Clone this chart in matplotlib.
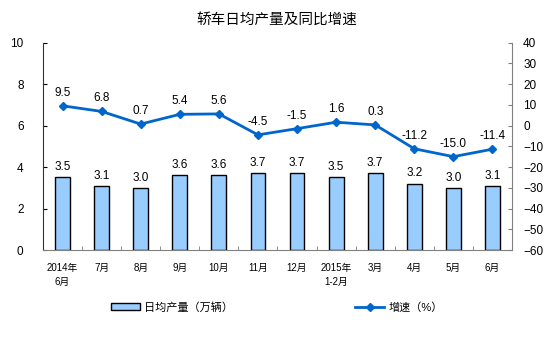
import matplotlib
matplotlib.use('Agg')
import matplotlib.pyplot as plt
import numpy as np

plt.rcParams['font.family'] = ['Liberation Sans', 'Noto Sans CJK SC', 'DejaVu Sans']

months = ['2014年\n6月', '7月', '8月', '9月', '10月', '11月', '12月',
          '2015年\n1-2月', '3月', '4月', '5月', '6月']
output = [3.5, 3.1, 3.0, 3.6, 3.6, 3.7, 3.7, 3.5, 3.7, 3.2, 3.0, 3.1]
growth = [9.5, 6.8, 0.7, 5.4, 5.6, -4.5, -1.5, 1.6, 0.3, -11.2, -15.0, -11.4]

bar_color = '#99CCFF'
line_color = '#0066CC'

fig = plt.figure(figsize=(5.54, 3.43), dpi=100)
ax = fig.add_axes([0.0776, 0.2711, 0.8466, 0.6049])
x = np.arange(len(months))

bars = ax.bar(x, output, width=0.38, color=bar_color, edgecolor='black',
              linewidth=1.0, label='日均产量（万辆）', zorder=2)
for xi, v in zip(x, output):
  ax.annotate('%.1f' % v, (xi, v), xytext=(0, 3), textcoords='offset points',
              ha='center', va='bottom', fontsize=8.5)

ax.set_xlim(-0.5, len(months) - 0.5)
ax.set_ylim(0, 10)
ax.set_yticks(range(0, 11, 2))
ax.set_xticks(x)
ax.set_xticklabels(months, fontsize=7, linespacing=1.5)
ax.set_xticks(np.arange(-0.5, len(months), 1), minor=True)
ax.tick_params(axis='x', which='major', length=0, pad=9)
ax.tick_params(axis='x', which='minor', length=3, direction='in', color='#808080')
ax.tick_params(axis='y', direction='in', length=3, labelsize=8.5, pad=14)

ax.spines['top'].set_visible(False)
ax.spines['right'].set_visible(False)
ax.spines['left'].set_color('#333333')
ax.spines['bottom'].set_color('#808080')

ax2 = ax.twinx()
ax2.plot(x, growth, color=line_color, marker='D', markersize=4.5, linewidth=2,
         label='增速（%）', zorder=3)
for xi, v in zip(x, growth):
  ax2.annotate('%.1f' % v, (xi, v), xytext=(0, 5), textcoords='offset points',
               ha='center', va='bottom', fontsize=8.5)
ax2.set_ylim(-60, 40)
ax2.set_yticks(range(-60, 41, 10))
ax2.tick_params(axis='y', direction='in', length=3, labelsize=8.5, color='#808080', pad=8)
ax2.spines['top'].set_visible(False)
ax2.spines['left'].set_visible(False)
ax2.spines['bottom'].set_visible(False)
ax2.spines['right'].set_color('#808080')

fig.text(0.5, 0.94, '轿车日均产量及同比增速', ha='center', va='center', fontsize=10.5)

fig.legend(handles=[bars, ax2.lines[0]], loc='center', bbox_to_anchor=(0.5, 0.105),
           ncol=2, frameon=False, fontsize=8, columnspacing=11, handlelength=2.6,
           handletextpad=0.4)

plt.savefig('out.png', dpi=100)
